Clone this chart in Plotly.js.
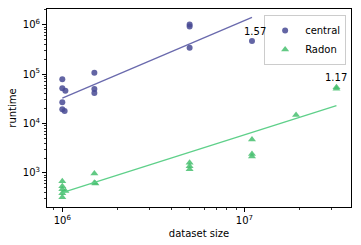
<!DOCTYPE html>
<html>
<head>
<meta charset="utf-8">
<script src="https://cdn.plot.ly/plotly-3.0.1.min.js"></script>
<style>html,body{margin:0;padding:0;background:#fff;}#chart{width:361px;height:245px;}</style>
</head>
<body>
<div id="chart"></div>
<script>
// ---- data ----
const seriesNames = ["central", "Radon"];
const centralX = [1.0e6, 1.0e6, 1.04e6, 1.0e6, 1.0e6, 1.03e6, 1.5e6, 1.5e6, 1.5e6, 5.0e6, 5.0e6, 5.0e6, 1.1e7];
const centralY = [78700, 51600, 46200, 26900, 19400, 17900, 107000, 50000, 41500, 1010000, 923000, 341000, 470000];
const radonX = [1.0e6, 1.0e6, 1.0e6, 1.0e6, 1.0e6, 1.04e6, 1.5e6, 1.5e6, 1.52e6, 5.0e6, 5.0e6, 5.0e6, 1.1e7, 1.1e7, 1.1e7, 1.92e7, 3.2e7, 3.2e7];
const radonY = [678, 537, 467, 387, 321, 430, 972, 632, 610, 1600, 1370, 1190, 4770, 2400, 2150, 14800, 54200, 50500];
// fitted power laws: log10(y) = slope * log10(x) + intercept
const fitSlope = [1.57, 1.17];
const fitIntercept = [-4.904, -4.42];
const xTickVals = [1e6, 1e7];
const xTickText = ["10<sup>6</sup>", "10<sup>7</sup>"];
const yTickVals = [1e3, 1e4, 1e5, 1e6];
const yTickText = ["10<sup>3</sup>", "10<sup>4</sup>", "10<sup>5</sup>", "10<sup>6</sup>"];
const xMinorVals = [9e5, 2e6, 3e6, 4e6, 5e6, 6e6, 7e6, 8e6, 9e6, 2e7, 3e7];
const yMinorVals = [];
for (let d = 2; d <= 6; d++) for (let m = 2; m <= 9; m++) yMinorVals.push(m * Math.pow(10, d));

const markerColors = ["rgba(72,74,148,0.85)", "rgba(70,192,110,0.85)"];
const lineColors = ["#6a6aad", "#5fd08a"];
const xs = [centralX, radonX], ys = [centralY, radonY];
const symbols = ["circle", "triangle-up"];

const traces = [];
const annotations = [];
for (let i = 0; i < 2; i++) {
  traces.push({
    x: xs[i], y: ys[i], type: "scatter", mode: "markers", name: seriesNames[i],
    marker: {color: markerColors[i], size: i === 0 ? 6 : 7, symbol: symbols[i], line: {width: 0}}
  });
  const x0 = Math.min(...xs[i]), x1 = Math.max(...xs[i]);
  const fx = [x0, x1];
  const fy = fx.map(v => Math.pow(10, fitSlope[i] * Math.log10(v) + fitIntercept[i]));
  traces.push({
    x: fx, y: fy, type: "scatter", mode: "lines", showlegend: false, hoverinfo: "skip",
    line: {color: lineColors[i], width: 1.3}
  });
  const last = xs[i].indexOf(x1);
  annotations.push({
    x: Math.log10(x1), y: Math.log10(ys[i][last]), xref: "x", yref: "y",
    text: fitSlope[i].toFixed(2), showarrow: false, yanchor: "bottom", xanchor: "center",
    yshift: 2, xshift: i === 0 ? 3 : 0,
    font: {family: "DejaVu Sans", size: 10, color: "#000"}
  });
}

const axisCommon = {
  type: "log", showgrid: false, zeroline: false, showline: true, linecolor: "#000", linewidth: 1,
  mirror: true, ticks: "outside", ticklen: 4, tickwidth: 1, tickcolor: "#000",
  tickfont: {family: "DejaVu Sans", size: 10, color: "#000"}, tickmode: "array"
};

const layout = {
  width: 361, height: 245,
  margin: {l: 47, r: 10, t: 9, b: 38, pad: 0},
  paper_bgcolor: "#fff", plot_bgcolor: "#fff",
  font: {family: "DejaVu Sans", size: 10, color: "#000"},
  xaxis: Object.assign({}, axisCommon, {
    range: [5.916, 7.585], tickvals: xTickVals, ticktext: xTickText,
    minor: {tickmode: "array", tickvals: xMinorVals, ticks: "outside", ticklen: 2, tickcolor: "#000", tickwidth: 0.8},
    title: {text: "dataset size", font: {family: "DejaVu Sans", size: 10, color: "#000"}, standoff: 4}
  }),
  yaxis: Object.assign({}, axisCommon, {
    range: [2.309, 6.319], tickvals: yTickVals, ticktext: yTickText,
    minor: {tickmode: "array", tickvals: yMinorVals, ticks: "outside", ticklen: 2, tickcolor: "#000", tickwidth: 0.8},
    title: {text: "runtime", font: {family: "DejaVu Sans", size: 10, color: "#000"}, standoff: 4}
  }),
  legend: {
    x: 0.984, y: 0.97, xanchor: "right", yanchor: "top",
    bgcolor: "rgba(255,255,255,0.8)", bordercolor: "#cccccc", borderwidth: 1,
    font: {family: "DejaVu Sans", size: 10, color: "#000"},
    itemwidth: 30, tracegroupgap: 2
  },
  annotations: annotations,
  showlegend: true
};

Plotly.newPlot("chart", traces, layout, {staticPlot: true, displayModeBar: false});
</script>
</body>
</html>
